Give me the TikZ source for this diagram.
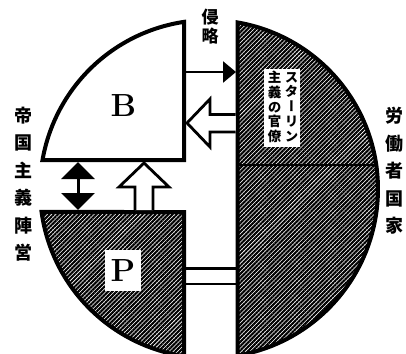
\documentclass[tikz,border=0pt]{standalone}
\usepackage{fontspec}
\newfontfamily\cjk[RawFeature=+vert]{Noto Sans CJK JP}
\usetikzlibrary{arrows.meta,patterns.meta}

\begin{document}
\begin{tikzpicture}[x=1pt, y=-1pt, >=Triangle,
  rim/.style={line width=4pt, line join=miter},
  hatch/.style={preaction={fill=white}, pattern={Lines[angle=45,distance=3pt,line width=2.1pt]}},
  hollow/.style={line width=2.8pt, fill=white, line join=miter},
  bar/.style={line width=2.5pt},
  vlabel/.style={font=\cjk\bfseries\fontsize{18}{27.5}\selectfont, align=center, inner sep=0pt},
  letter/.style={font=\bfseries\fontsize{32}{32}\selectfont, inner sep=0pt}]
  \useasboundingbox (0,0) rectangle (406,353);
  % circle: center (209,189), radius 169
  % B (white, upper left)
  \draw[rim, fill=white] (184,160) -- plot[domain=189.88:261.5, samples=60] ({209+169*cos(\x)}, {189+169*sin(\x)}) -- cycle;
  % P (hatched, lower left)
  \draw[rim, hatch] (184,212) -- plot[domain=172.18:98.5, samples=60] ({209+169*cos(\x)}, {189+169*sin(\x)}) -- cycle;
  % workers' state (hatched, right half)
  \draw[rim, hatch] plot[domain=-80.29:80.29, samples=100] ({209+169*cos(\x)}, {189+169*sin(\x)}) -- cycle;
  \coordinate (split-w) at (237.5,165);
  \coordinate (split-e) at (376.3,165);
  \draw[bar] (split-w) -- (split-e);

  % letters
  \node[letter] (B) at (123.5,105.5) {B};
  \node[letter, fill=white, minimum width=36pt, minimum height=41pt] (P) at (123,270.5) {P};

  % bureaucracy box
  \node[fill=white, minimum width=36pt, minimum height=78pt, inner sep=0pt] (bureau) at (282,108) {};
  \node[font=\cjk\bfseries\fontsize{13.5}{14.8}\selectfont, align=center, inner sep=0pt] (stalin) at (291.5,107) {ス\\タ\\ー\\リ\\ン};
  \node[font=\cjk\bfseries\fontsize{13.5}{14.8}\selectfont, align=center, inner sep=0pt] (kanryo) at (274.5,107) {主\\義\\の\\官\\僚};

  % labels
  \node[vlabel, font=\cjk\bfseries\fontsize{17}{19}\selectfont] (invade) at (210,27) {侵\\略};
  \node[vlabel] (camp) at (23,184) {帝\\国\\主\\義\\陣\\営};
  \node[vlabel] (state) at (394,171) {労\\働\\者\\国\\家};

  % invasion arrow
  \coordinate (inv-s) at (184,72);
  \coordinate (inv-e) at (236,72);
  \draw[line width=2.5pt, -{Triangle[length=13pt,width=21pt]}] (inv-s) -- (inv-e);
  % hollow arrow from the bureaucracy to B
  \coordinate (bur-s) at (235.5,114.5);
  \draw[hollow] (bur-s) -- ++(-25.5,0) -- ++(0,-15.5) -- ++(-23,24) -- ++(23,24) -- ++(0,-15) -- ++(25.5,0);
  % B <-> P
  \coordinate (dbl-t) at (78,162);
  \coordinate (dbl-b) at (78,210);
  \draw[line width=3pt, {Triangle[length=17pt,width=33pt]}-{Triangle[length=17pt,width=33pt]}] (dbl-t) -- (dbl-b);
  % hollow arrow from P to B
  \coordinate (rise-s) at (135,210);
  \draw[hollow] (rise-s) -- ++(0,-23) -- ++(-16,0) -- ++(25,-24) -- ++(25,24) -- ++(-16,0) -- ++(0,23);
  % bars between P and the workers' state
  \coordinate (bar1-w) at (184,268.5);
  \coordinate (bar1-e) at (237.5,268.5);
  \coordinate (bar2-w) at (184,284);
  \coordinate (bar2-e) at (237.5,284);
  \draw[bar] (bar1-w) -- (bar1-e);
  \draw[bar] (bar2-w) -- (bar2-e);
\end{tikzpicture}
\end{document}
